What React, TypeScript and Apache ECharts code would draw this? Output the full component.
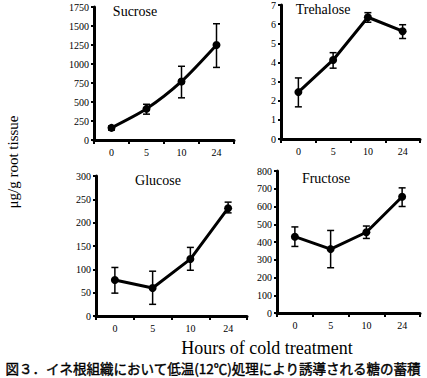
import React, { useEffect, useRef } from "react";
import * as echarts from "echarts";

const hours = ["0", "5", "10", "24"];

const sucrose = [160, 410, 770, 1250];
const sucroseLo = [130, 340, 555, 955];
const sucroseHi = [185, 470, 970, 1530];

const trehalose = [2.45, 4.13, 6.36, 5.63];
const trehaloseLo = [1.68, 3.7, 6.1, 5.25];
const trehaloseHi = [3.19, 4.51, 6.6, 5.97];

const glucose = [77, 60, 122, 231];
const glucoseLo = [49, 25, 98, 221];
const glucoseHi = [104, 96, 147, 244];

const fructose = [430, 360, 455, 655];
const fructoseLo = [375, 255, 420, 600];
const fructoseHi = [485, 465, 490, 705];

const panelNames = ["Sucrose", "Trehalose", "Glucose", "Fructose"];
const yMax = [1750, 7, 300, 800];
const yInterval = [250, 1, 50, 100];

const yLabel = "μg/g root tissue";
const xLabel = "Hours of cold treatment";
const caption = "図３．イネ根組織において低温(12℃)処理により誘導される糖の蓄積";

const SERIF = "'Liberation Serif', serif";

export default function App() {
  const ref = useRef<HTMLDivElement>(null);
  useEffect(() => {
    document.body.style.margin = "0";
    const chart = echarts.init(ref.current!, null, { renderer: "svg" });
    const grids = [
      { left: 94, top: 7, width: 140, height: 133 },
      { left: 281, top: 3, width: 139, height: 136 },
      { left: 96, top: 176, width: 151, height: 140 },
      { left: 277, top: 171, width: 143, height: 142 },
    ];
    const means = [sucrose, trehalose, glucose, fructose];
    const los = [sucroseLo, trehaloseLo, glucoseLo, fructoseLo];
    const his = [sucroseHi, trehaloseHi, glucoseHi, fructoseHi];
    const titlePos = [
      [135, 11],
      [323, 9],
      [158, 180],
      [326, 178],
    ];

    const xAxes = grids.map((_, i) => ({
      type: "category",
      gridIndex: i,
      data: hours,
      boundaryGap: true,
      axisLine: { lineStyle: { color: "#000", width: 3 } },
      axisTick: { show: true, length: 4, lineStyle: { color: "#000", width: 2 } },
      axisLabel: { color: "#000", fontFamily: SERIF, fontSize: 10, margin: 7 },
    }));
    const yAxes = grids.map((_, i) => ({
      type: "value",
      gridIndex: i,
      min: 0,
      max: yMax[i],
      interval: yInterval[i],
      splitLine: { show: false },
      axisLine: { show: true, lineStyle: { color: "#000", width: 3 } },
      axisTick: { show: true, length: 3, lineStyle: { color: "#000", width: 2 } },
      axisLabel: {
        color: "#000",
        fontFamily: SERIF,
        fontSize: 10,
        margin: 5,
        formatter: (v: number) => String(v),
      },
    }));

    const series: any[] = [];
    grids.forEach((_, i) => {
      series.push({
        type: "custom",
        xAxisIndex: i,
        yAxisIndex: i,
        data: hours.map((_, j) => [j, los[i][j], his[i][j]]),
        renderItem: (params: any, api: any) => {
          const x = api.value(0);
          const pHi = api.coord([x, api.value(2)]);
          const pLo = api.coord([x, api.value(1)]);
          const w = 3.5;
          const style = { stroke: "#000", lineWidth: 1.5 };
          return {
            type: "group",
            children: [
              { type: "line", shape: { x1: pHi[0], y1: pHi[1], x2: pLo[0], y2: pLo[1] }, style },
              { type: "line", shape: { x1: pHi[0] - w, y1: pHi[1], x2: pHi[0] + w, y2: pHi[1] }, style },
              { type: "line", shape: { x1: pLo[0] - w, y1: pLo[1], x2: pLo[0] + w, y2: pLo[1] }, style },
            ],
          };
        },
        z: 1,
      });
      series.push({
        type: "line",
        xAxisIndex: i,
        yAxisIndex: i,
        data: means[i],
        smooth: i === 0 ? 0.25 : false,
        symbol: "circle",
        symbolSize: 8,
        lineStyle: { color: "#000", width: 3 },
        itemStyle: { color: "#000" },
        z: 2,
      });
    });

    const graphics: any[] = panelNames.map((name, i) => ({
      type: "text",
      x: titlePos[i][0],
      y: titlePos[i][1],
      style: {
        text: name,
        fill: "#000",
        font: `14px ${SERIF}`,
        textAlign: "center",
        textVerticalAlign: "middle",
      },
    }));
    graphics.push({
      type: "text",
      x: 13,
      y: 162,
      rotation: Math.PI / 2,
      style: {
        text: yLabel,
        fill: "#000",
        font: `15px ${SERIF}`,
        textAlign: "center",
        textVerticalAlign: "middle",
      },
    });
    graphics.push({
      type: "text",
      x: 267,
      y: 348,
      style: {
        text: xLabel,
        fill: "#000",
        font: `18px ${SERIF}`,
        textAlign: "center",
        textVerticalAlign: "middle",
      },
    });
    graphics.push({
      type: "text",
      x: 213,
      y: 368,
      style: {
        text: caption,
        fill: "#000",
        stroke: "#000",
        lineWidth: 0.4,
        font: `13.5px 'Noto Sans CJK JP', sans-serif`,
        textAlign: "center",
        textVerticalAlign: "middle",
      },
    });

    chart.setOption({
      animation: false,
      backgroundColor: "#fff",
      grid: grids,
      xAxis: xAxes,
      yAxis: yAxes,
      series,
      graphic: graphics,
    });
    return () => chart.dispose();
  }, []);
  return <div ref={ref} style={{ width: 427, height: 378 }} />;
}
